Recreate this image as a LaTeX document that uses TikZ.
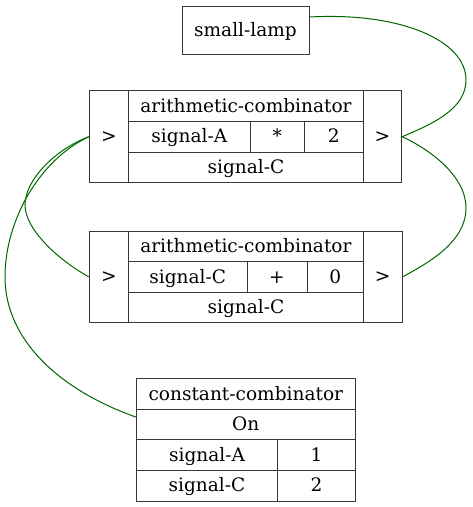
\documentclass[tikz,border=0pt]{standalone}
\usepackage{fontspec}
\setmainfont{DejaVu Serif}
\begin{document}
\begin{tikzpicture}[x=0.75pt,y=-0.75pt,
  cell/.style={draw=black!78,line width=0.75pt,inner sep=0pt,text height=11.2pt,text depth=2.2pt,font=\fontsize{13.9}{16}\selectfont},
  wire/.style={draw=green!40!black,line width=0.75pt}]
\newcommand\mycell[6]{\node[cell,minimum width={(#4-#2)*0.75pt},minimum height={(#5-#3)*0.75pt}] (#1) at ({(#2+#4)/2},{(#3+#5)/2}) {#6};}
\useasboundingbox (0,0) rectangle (472,507);
% small lamp
\mycell{lamp}{182}{6}{309}{54}{small-lamp}
% arithmetic 1
\mycell{a1l}{89.3}{90.7}{128.7}{182.7}{>}
\mycell{a1t}{128.7}{90.7}{363.3}{121.3}{arithmetic-combinator}
\mycell{a1s}{128.7}{121.3}{250}{152.3}{signal-A}
\mycell{a1o}{250}{121.3}{304.3}{152.3}{*}
\mycell{a1v}{304.3}{121.3}{363.3}{152.3}{2}
\mycell{a1out}{128.7}{152.3}{363.3}{182.7}{signal-C}
\mycell{a1r}{363.3}{90.7}{401.7}{182.7}{>}
% arithmetic 2
\mycell{a2l}{89.3}{231}{128.5}{322.7}{>}
\mycell{a2t}{128.5}{231}{363.3}{261.7}{arithmetic-combinator}
\mycell{a2s}{128.5}{261.7}{247}{292.3}{signal-C}
\mycell{a2o}{247}{261.7}{307}{292.3}{+}
\mycell{a2v}{307}{261.7}{363.3}{292.3}{0}
\mycell{a2out}{128.5}{292.3}{363.3}{322.7}{signal-C}
\mycell{a2r}{363.3}{231}{402}{322.7}{>}
% constant combinator
\mycell{cct}{136.3}{378.7}{355.3}{409.3}{constant-combinator}
\mycell{ccon}{136.3}{409.3}{355.3}{439.7}{On}
\mycell{cca}{136.3}{439.7}{277.7}{470.3}{signal-A}
\mycell{ccav}{277.7}{439.7}{355.3}{470.3}{1}
\mycell{ccc}{136.3}{470.3}{277.7}{501}{signal-C}
\mycell{cccv}{277.7}{470.3}{355.3}{501}{2}
% wire waypoints
\coordinate (r1) at (466,80);
\coordinate (r2) at (466,208);
\coordinate (l1) at (25,205);
\coordinate (l2) at (5,277);
\coordinate (ls) at ([yshift=9.75pt]lamp.east);
\coordinate (ce) at ([yshift=5.6pt]ccon.west);
% wires
\draw[wire] (ls) .. controls +(90,-5) and +(0,-40) .. (r1) .. controls +(0,30) and +(28,-12) .. (a1r.east);
\draw[wire] (a1r.east) .. controls +(28,13) and +(0,-32) .. (r2) .. controls +(0,33) and +(28,-15) .. (a2r.east);
\draw[wire] (a1l.west) .. controls +(-34,13) and +(0,-25) .. (l1) .. controls +(0,25) and +(-29,-16) .. (a2l.west);
\draw[wire] (a1l.west) .. controls +(-49,23) and +(0,-57) .. (l2) .. controls +(0,63) and +(-76,-27) .. (ce);
\end{tikzpicture}
\end{document}
